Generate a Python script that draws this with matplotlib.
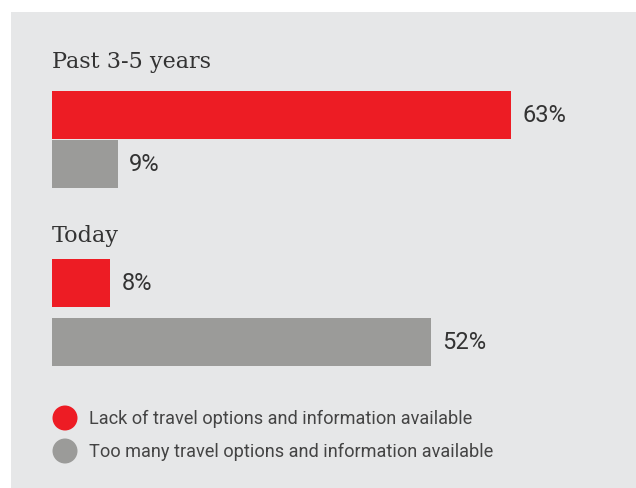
import matplotlib
matplotlib.use("Agg")
import matplotlib.pyplot as plt
from matplotlib.patches import Rectangle

groups = ["Past 3-5 years", "Today"]
lack_values = [63, 8]
toomany_values = [9, 52]
series_labels = ["Lack of travel options and information available",
                 "Too many travel options and information available"]
value_fmt = "{}%"

RED = "#ed1c24"
GRAY = "#9b9b99"
BG = "#e6e7e8"
TXT = "#333333"

W, H = 636, 488
fig = plt.figure(figsize=(W / 100, H / 100), dpi=100)
fig.patch.set_facecolor("white")
fig.patches.append(Rectangle((11 / W, 0), 1, 1 - 12 / H, transform=fig.transFigure,
                             facecolor=BG, edgecolor="none", zorder=-10))
ax = fig.add_axes([0, 0, 1, 1], zorder=1)
ax.patch.set_alpha(0)
PX = 7.29  # pixels per percent
X0 = 52
ax.set_xlim(-X0 / PX, (W - X0) / PX)
ax.set_ylim(H, 0)
ax.axis("off")

title_y = [62, 236]
red_y = [115, 283]
gray_y = [163.5, 341.5]
bar_h = 48

for i, g in enumerate(groups):
    ax.text(0, title_y[i], g, family="DejaVu Serif", fontsize=16, color=TXT,
            va="center", ha="left")
    ax.barh(red_y[i], lack_values[i], height=bar_h, left=0, color=RED)
    ax.barh(gray_y[i], toomany_values[i], height=bar_h, left=0, color=GRAY)
    ax.text(lack_values[i] + 11 / PX, red_y[i] + 1, value_fmt.format(lack_values[i]),
            family="Roboto", fontsize=17, color=TXT, va="center", ha="left")
    ax.text(toomany_values[i] + 11 / PX, gray_y[i] + 1, value_fmt.format(toomany_values[i]),
            family="Roboto", fontsize=17, color=TXT, va="center", ha="left")

# legend
leg_y = [418, 451]
leg_cols = [RED, GRAY]
for y, c, lab in zip(leg_y, leg_cols, series_labels):
    ax.scatter([(65 - X0) / PX], [y], s=(25 * 0.72) ** 2, color=c, edgecolor="none")
    ax.text((89 - X0) / PX, y + 1, lab, family="Roboto",
            fontsize=13.1, color="#444444", va="center", ha="left")

fig.savefig("out.png", dpi=100, facecolor="white")
